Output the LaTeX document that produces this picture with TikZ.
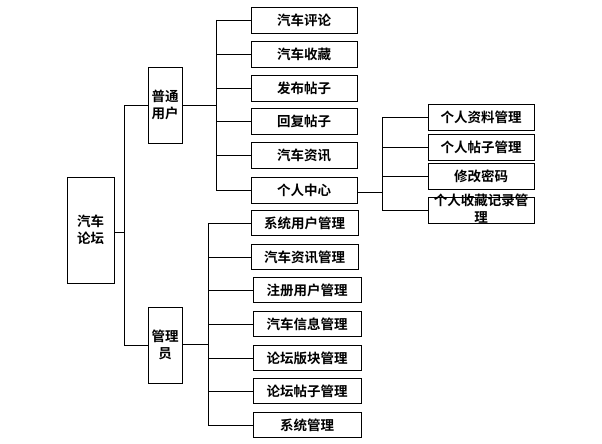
\documentclass[tikz,border=0pt]{standalone}
\usepackage{fontspec}
\newfontfamily\cjk{Noto Sans CJK SC}[BoldFont={Noto Sans CJK SC Bold}]
\begin{document}
\begin{tikzpicture}[x=1pt,y=-1pt,
  box/.style={draw, line width=0.9pt, inner sep=0pt, minimum height=26pt, font=\cjk\bfseries\fontsize{13.5}{17}\selectfont, align=center},
  leaf/.style={box, minimum width=106pt},
  vbox/.style={box, minimum width=34pt, minimum height=76pt},
  conn/.style={line width=0.8pt}]
\useasboundingbox (0,0) rectangle (602,444);
% root and level 1
\node[box, minimum width=47pt, minimum height=106pt] (root) at (90.5,230) {汽车\\论坛};
\node[vbox] (u) at (165,105) {普通\\用户};
\node[vbox] (a) at (165,345) {管理\\员};
% user children
\node[leaf] (c1) at (304,20) {汽车评论};
\node[leaf] (c2) at (304,54) {汽车收藏};
\node[leaf] (c3) at (304,88) {发布帖子};
\node[leaf] (c4) at (304,121) {回复帖子};
\node[leaf] (c5) at (304,155) {汽车资讯};
\node[leaf] (c6) at (304,190) {个人中心};
% personal center children
\node[leaf] (p1) at (481,117) {个人资料管理};
\node[leaf] (p2) at (481,147) {个人帖子管理};
\node[leaf] (p3) at (481,176) {修改密码};
\node[leaf] (p4) at (481,210) {};
\node[font=\cjk\bfseries\fontsize{13.5}{17}\selectfont, align=center, inner sep=0pt] (p4t) at (481,208.5) {个人收藏记录管\\理};
% admin children
\node[leaf, minimum width=107pt, minimum height=25pt] (m1) at (304.5,223) {系统用户管理};
\node[leaf, minimum width=107pt, minimum height=25pt] (m2) at (304.5,257) {汽车资讯管理};
\node[leaf, minimum width=108pt, minimum height=25pt] (m3) at (307,290) {注册用户管理};
\node[leaf, minimum width=108pt, minimum height=25pt] (m4) at (307,324) {汽车信息管理};
\node[leaf, minimum width=108pt, minimum height=25pt] (m5) at (307,358) {论坛版块管理};
\node[leaf, minimum width=108pt, minimum height=25pt] (m6) at (307,391) {论坛帖子管理};
\node[leaf, minimum width=108pt, minimum height=25pt] (m7) at (307,425) {系统管理};
% junction coordinates
\coordinate (j0) at (124,232);
\coordinate (ju) at (216,105);
\coordinate (jp) at (382,192);
\coordinate (ja) at (208,344);
% root connectors
\draw[conn] (root.east |- j0) -- (j0);
\draw[conn] (u.west) -- (u.west -| j0) -- (a.west -| j0) -- (a.west);
% user connectors
\draw[conn] (u.east) -- (ju);
\draw[conn] (c1.west -| ju) -- (c6.west -| ju);
\foreach \n in {c1,c2,c3,c4,c5,c6} \draw[conn] (\n.west -| ju) -- (\n.west);
% personal center connectors
\draw[conn] (c6.east |- jp) -- (jp);
\draw[conn] (p1.west -| jp) -- (p4.west -| jp);
\foreach \n in {p1,p2,p3,p4} \draw[conn] (\n.west -| jp) -- (\n.west);
% admin connectors
\draw[conn] (a.east |- ja) -- (ja);
\draw[conn] (m1.west -| ja) -- (m7.west -| ja);
\foreach \n in {m1,m2,m3,m4,m5,m6,m7} \draw[conn] (\n.west -| ja) -- (\n.west);
\end{tikzpicture}
\end{document}
